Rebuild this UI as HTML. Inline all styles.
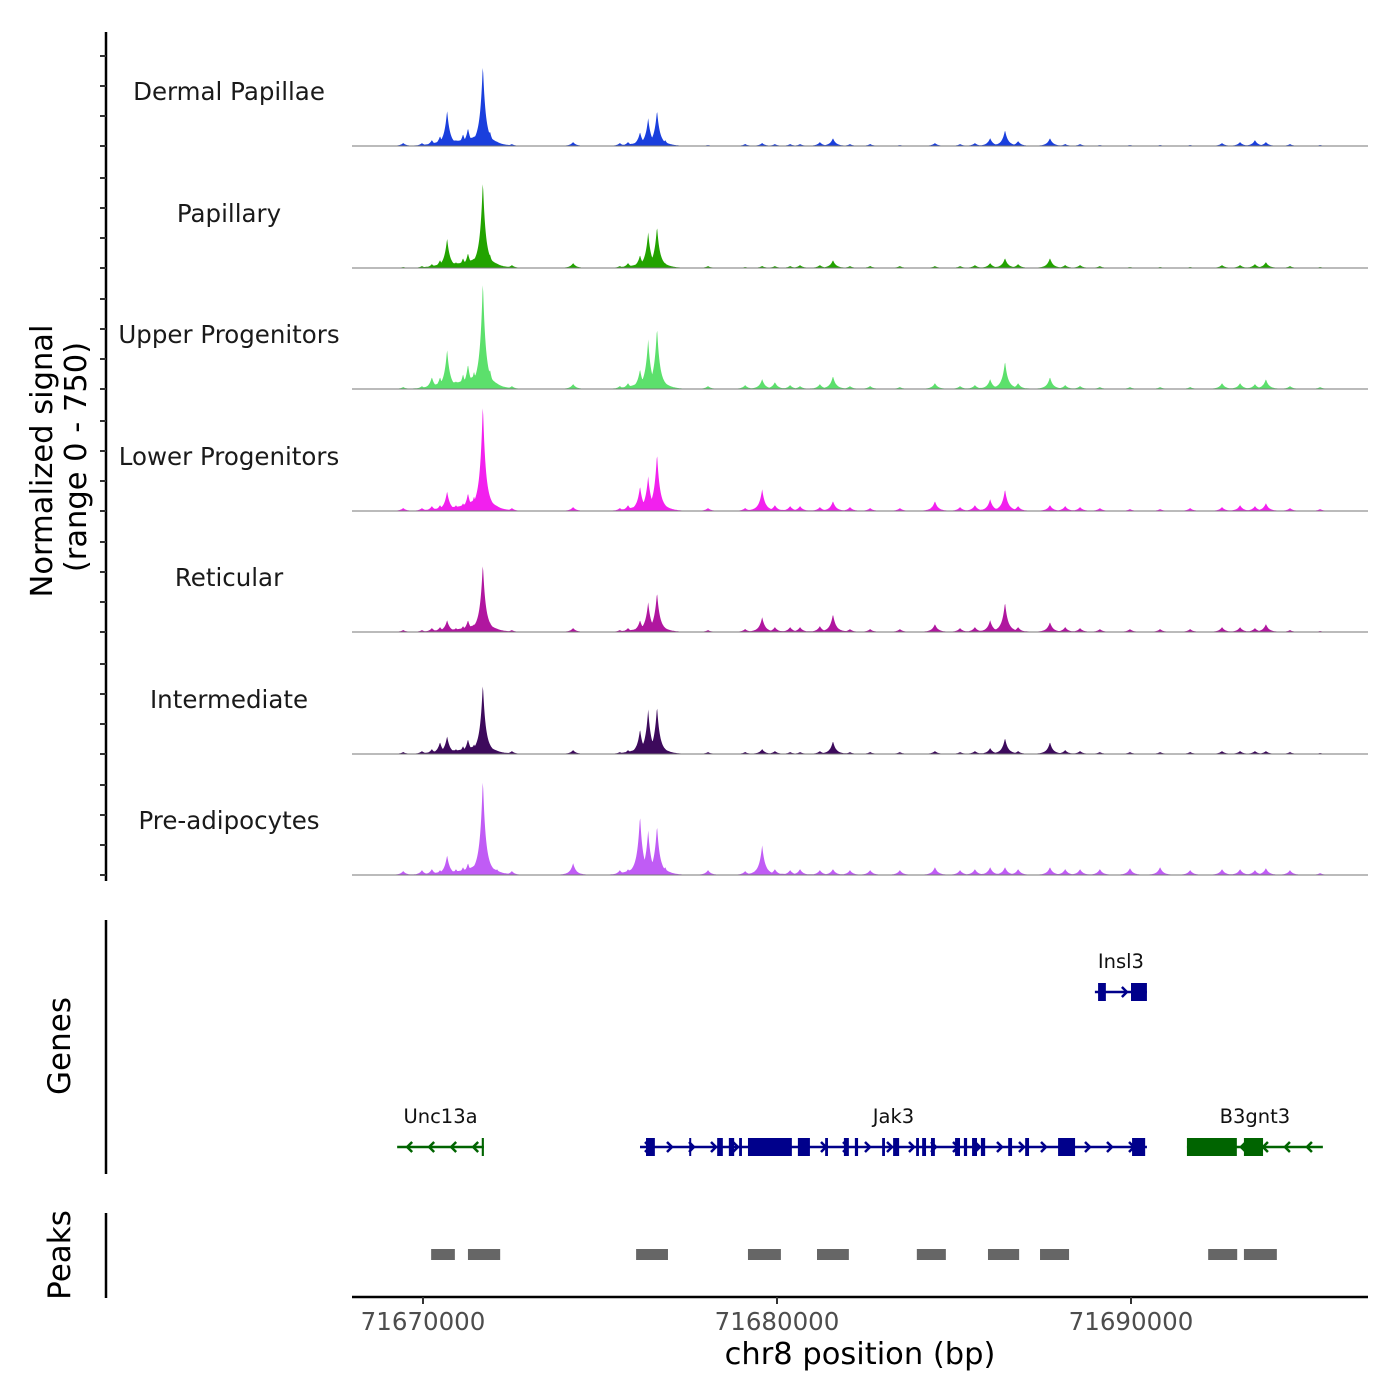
<!DOCTYPE html>
<html><head><meta charset="utf-8"><style>
html,body{margin:0;padding:0;background:#fff;}
svg{display:block;font-family:"DejaVu Sans","Liberation Sans",sans-serif;}
</style></head><body>
<svg id="chart" width="1400" height="1400" viewBox="0 0 1400 1400" xmlns="http://www.w3.org/2000/svg">
<rect width="1400" height="1400" fill="#fff"/>
<g id="signal"></g>
<g id="genes"></g>
<g id="peaks"></g>
<g id="axes"></g>
</svg>
<script>
const peakPositions=[71669.44,71669.97,71670.25,71670.48,71670.68,71670.93,71671.13,71671.27,71671.44,71671.69,71671.89,71672.09,71672.51,71674.24,71675.56,71675.79,71676.13,71676.36,71676.61,71676.84,71678.05,71679.10,71679.58,71679.94,71680.37,71680.65,71681.21,71681.58,71682.06,71682.63,71683.47,71684.46,71685.17,71685.59,71686.02,71686.44,71686.81,71687.71,71688.14,71688.56,71689.12,71689.97,71690.82,71691.67,71692.57,71693.08,71693.50,71693.81,71694.49,71695.34];
const trackNames=["Dermal Papillae","Papillary","Upper Progenitors","Lower Progenitors","Reticular","Intermediate","Pre-adipocytes"];
const trackColors=["#1a3fdd","#22a300","#5ce06c","#f220ee","#b0169f","#3d0a5c","#c05cf5"];
const dermalValues=[18,18,36,60,216,36,72,108,60,492,90,24,12,24,18,24,84,168,216,36,6,12,18,12,12,12,24,48,12,12,6,18,12,18,48,96,30,48,12,12,6,6,6,6,18,24,36,24,12,6];
const papillaryValues=[6,12,24,48,180,36,60,90,60,528,84,24,18,30,12,30,78,216,252,30,12,6,12,12,12,18,18,48,12,12,12,12,12,18,30,60,24,60,18,18,12,6,6,6,18,18,24,36,12,6];
const upperValues=[12,18,72,72,240,48,90,150,108,654,120,30,18,30,18,36,120,300,372,36,18,24,60,42,24,18,30,78,18,18,12,36,18,24,60,168,36,72,24,18,12,12,12,12,36,36,30,60,18,12];
const lowerValues=[18,18,30,36,120,36,48,108,90,648,90,24,18,24,18,36,150,210,348,36,18,18,132,36,30,30,24,60,24,18,18,60,24,36,72,132,30,36,30,24,18,12,12,18,24,36,30,48,18,12];
const reticularValues=[12,12,24,30,72,24,36,72,48,414,60,18,12,24,12,24,72,180,240,24,12,18,90,30,30,30,36,108,18,18,18,48,24,30,72,180,30,60,30,24,18,18,18,18,30,30,24,48,12,6];
const intermediateValues=[12,18,30,72,108,30,48,90,60,426,60,18,18,24,12,24,150,270,288,24,12,12,30,18,12,12,18,78,12,12,12,18,12,18,36,96,18,72,24,18,12,12,12,12,18,18,18,18,12,6];
const preadipValues=[24,30,36,30,120,36,48,72,60,582,60,36,24,72,30,36,360,270,300,48,30,24,180,36,30,36,30,36,30,30,30,48,30,36,48,48,36,48,36,36,36,42,48,30,36,36,30,42,30,12];
const trackValues=[dermalValues,papillaryValues,upperValues,lowerValues,reticularValues,intermediateValues,preadipValues];
const xTicks=[71670000,71680000,71690000];
const xTickLabels=["71670000","71680000","71690000"];
const peakRegions=[[71670.23,71670.90],[71671.27,71672.18],[71676.02,71676.92],[71679.18,71680.11],[71681.13,71682.03],[71683.95,71684.77],[71685.96,71686.84],[71687.43,71688.25],[71692.18,71693.00],[71693.19,71694.12]];
const genes=[
 {name:"Insl3",strand:1,start:71688.98,end:71690.45,row:0,color:"#00008b",exons:[[71689.07,71689.29],[71690.0,71690.45]]},
 {name:"Unc13a",strand:-1,start:71669.27,end:71671.72,row:1,color:"#006400",exons:[[71671.66,71671.72]]},
 {name:"Jak3",strand:1,start:71676.13,end:71690.45,row:1,color:"#00008b",exons:[[71676.30,71676.55],[71677.52,71677.56],[71678.31,71678.47],[71678.64,71678.79],[71678.93,71679.01],[71679.18,71680.42],[71680.59,71680.93],[71681.36,71681.44],[71681.89,71682.03],[71682.20,71682.29],[71682.97,71683.05],[71683.28,71683.45],[71683.93,71684.01],[71684.10,71684.21],[71684.35,71684.46],[71685.03,71685.17],[71685.28,71685.37],[71685.51,71685.65],[71685.76,71685.88],[71686.53,71686.64],[71687.01,71687.12],[71687.94,71688.42],[71690.03,71690.40]]},
 {name:"B3gnt3",strand:-1,start:71691.58,end:71695.42,row:1,color:"#006400",exons:[[71691.58,71692.99],[71693.19,71693.73]]}
];
const NS="http://www.w3.org/2000/svg";
function mk(tag,attrs,parent,text){const e=document.createElementNS(NS,tag);for(const k in attrs)e.setAttribute(k,attrs[k]);if(text!==undefined)e.textContent=text;parent.appendChild(e);return e;}
const x0=352,x1=1368;
function xScale(kb){return 423+(kb-71670)*35.4;}
const baselines=[146,268,389,511,632,754,875];
const unitsPerPx=6;
const sig=document.getElementById('signal');
trackValues.forEach((vals,t)=>{
  const b=baselines[t];
  const g=mk('g',{},sig);
  
  
  let pts=[[x0,b]];
  const start=xScale(peakPositions[0])-8,end=xScale(peakPositions[peakPositions.length-1])+8;
  for(let px=start;px<=end;px+=0.5){
    let h=0,s=0;
    peakPositions.forEach((p,i)=>{const d=Math.abs(px-xScale(p));const hp=vals[i]/unitsPerPx;
      const v=hp*(0.75*Math.exp(-d/2.5)+0.25*Math.exp(-d/7));if(v>h)h=v;s+=hp*0.25*Math.exp(-d/7);});
    h=Math.max(h,s*0.8);
    pts.push([px,b-h]);
  }
  pts.push([end,b]);
  const area=mk('polygon',{points:pts.map(p=>p[0].toFixed(1)+','+p[1].toFixed(1)).join(' '),fill:trackColors[t]},g);
  
  
  const bl=mk('line',{x1:x0,x2:x1,y1:b,y2:b,stroke:'#777','stroke-width':1},g);
  
  
  const lab=mk('text',{x:229,y:b-46,'font-size':24.5,'text-anchor':'middle',fill:'#1a1a1a'},g,trackNames[t]);
  
  
});
const gg=document.getElementById('genes');
const rowY=[992,1147];
genes.forEach(gn=>{
  const y=rowY[gn.row];
  const g=mk('g',{},gg);
  
  
  const xs=xScale(gn.start),xe=xScale(gn.end);
  mk('line',{x1:xs,x2:xe,y1:y,y2:y,stroke:gn.color,'stroke-width':2.5},g);
  for(let ax=xs+10;ax<xe-6;ax+=22){
    const d=gn.strand*5;
    mk('polyline',{points:`${ax-d},${y-5} ${ax},${y} ${ax-d},${y+5}`,fill:'none',stroke:gn.color,'stroke-width':2.5},g);
  }
  gn.exons.forEach(ex=>{
    const a=xScale(ex[0]),c=xScale(ex[1]);
    const r=mk('rect',{x:a,y:y-9,width:Math.max(2,c-a),height:18,fill:gn.color},g);
    
    
  });
  const lab=mk('text',{x:(xs+xe)/2,y:y-24,'font-size':19.5,'text-anchor':'middle',fill:'#111'},g,gn.name);
  
  
});
const pg=document.getElementById('peaks');
peakRegions.forEach(r=>{
  const e=mk('rect',{x:xScale(r[0]),y:1249,width:xScale(r[1])-xScale(r[0]),height:11,fill:'#666'},pg);
  
  
});
const ax=document.getElementById('axes');
let l=mk('line',{x1:106,x2:106,y1:32,y2:881,stroke:'#000','stroke-width':2.5},ax);

baselines.forEach(b=>{for(let k=0;k<4;k++){const ty=b-k*30;mk('line',{x1:100,x2:106,y1:ty,y2:ty,stroke:'#333','stroke-width':2},ax);}});
let t=mk('text',{transform:'translate(52,461) rotate(-90)','font-size':30.5,'text-anchor':'middle',fill:'#000'},ax,'Normalized signal');

t=mk('text',{transform:'translate(86,457) rotate(-90)','font-size':30.5,'text-anchor':'middle',fill:'#000'},ax,'(range 0 - 750)');

l=mk('line',{x1:106,x2:106,y1:920,y2:1174,stroke:'#000','stroke-width':2.5},ax);

t=mk('text',{transform:'translate(70,1046) rotate(-90)','font-size':31,'text-anchor':'middle',fill:'#000'},ax,'Genes');

l=mk('line',{x1:106,x2:106,y1:1213,y2:1298,stroke:'#000','stroke-width':2.5},ax);

t=mk('text',{transform:'translate(70,1255) rotate(-90)','font-size':31,'text-anchor':'middle',fill:'#000'},ax,'Peaks');

l=mk('line',{x1:x0,x2:x1,y1:1297,y2:1297,stroke:'#000','stroke-width':2.5},ax);

xTicks.forEach((v,i)=>{
  const tx=xScale(v/1000);
  mk('line',{x1:tx,x2:tx,y1:1297,y2:1304,stroke:'#333','stroke-width':2},ax);
  const e=mk('text',{x:tx,y:1330,'font-size':24.5,'text-anchor':'middle',fill:'#4d4d4d'},ax,xTickLabels[i]);
  
  
});
t=mk('text',{x:860,y:1364,'font-size':30.5,'text-anchor':'middle',fill:'#000'},ax,'chr8 position (bp)');

</script>
</body></html>
